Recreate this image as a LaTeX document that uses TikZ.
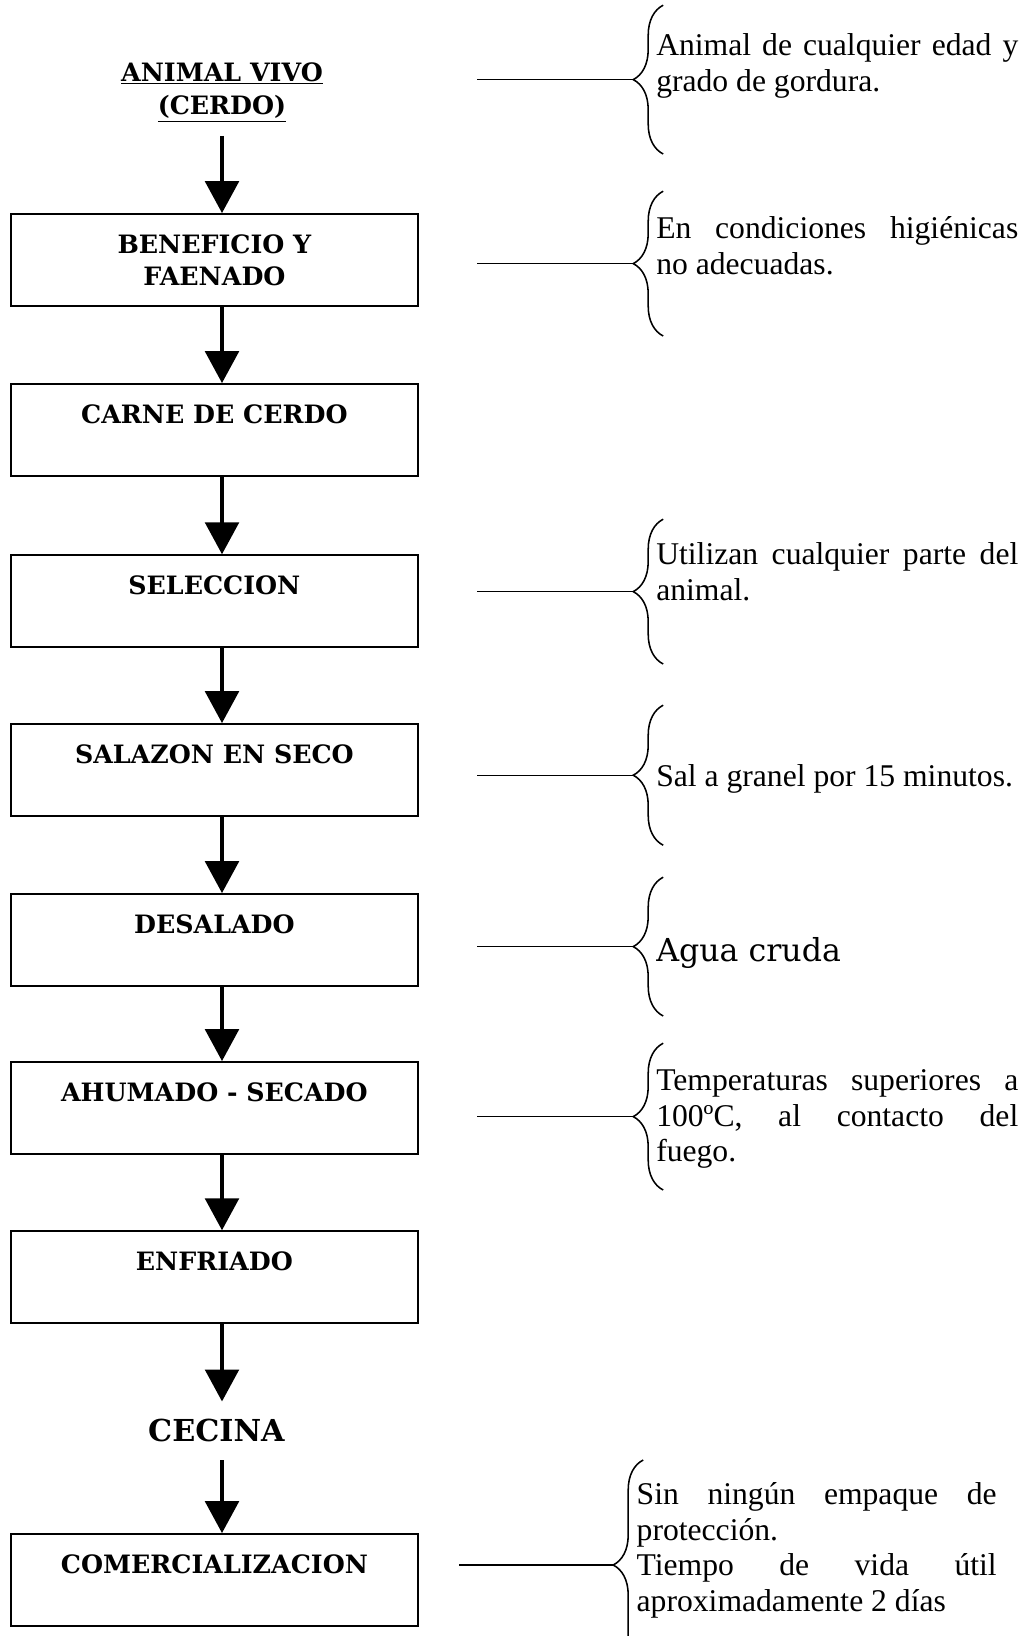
\documentclass[tikz,border=0pt]{standalone}
\usepackage{fontspec}
\setmainfont{Liberation Serif}
\newfontfamily\cajafont{DejaVu Serif}
\usepackage{tikz}
\usetikzlibrary{positioning, arrows.meta, decorations.pathreplacing}
\hyphenpenalty=10000
\exhyphenpenalty=10000

\begin{document}
\begin{tikzpicture}[
    caja/.style={draw, line width=1.2pt, minimum width=10.18cm, minimum height=2.3cm, inner sep=0pt, align=center, font=\cajafont\bfseries\fontsize{18}{22.5}\selectfont},
    titulo/.style={inner xsep=0pt, inner ysep=0.35cm, align=center, font=\cajafont\bfseries\fontsize{18}{24}\selectfont},
    flecha/.style={line width=3.5pt, -{Triangle[width=0.83cm, length=0.8cm]}},
    linea/.style={line width=1pt},
    llave/.style={line width=1.1pt, decorate, decoration={brace, amplitude=0.75cm}},
    nota/.style={anchor=base west, inner sep=0pt, text width=9.05cm, align=justify, font=\fontsize{22.5}{25.6}\selectfont}
  ]
  \useasboundingbox (0,0) rectangle (25.8,-40.9);
  \coordinate (eje) at (5.55,0);

  % Nodes
  \node[titulo] (animal) at (5.55,-2.30) {\underline{ANIMAL VIVO}\\\underline{(CERDO)}};
  \foreach \n/\y/\t in {benef/6.50/{BENEFICIO Y\\FAENADO}, carne/10.75/{CARNE DE CERDO\\\mbox{}},
      selec/15.03/{SELECCION\\\mbox{}}, salaz/19.25/{SALAZON EN SECO\\\mbox{}},
      desal/23.50/{DESALADO\\\mbox{}}, ahum/27.70/{AHUMADO - SECADO\\\mbox{}},
      enfr/31.93/{ENFRIADO\\\mbox{}}, comer/39.50/{COMERCIALIZACION\\\mbox{}}}
    \node[caja] (\n) at (5.36,-\y) {\t};
  \node[font=\cajafont\bfseries\fontsize{21.5}{26}\selectfont, minimum height=1.45cm, inner sep=0pt] (cecina) at (5.41,-35.77) {CECINA};

  % Arrows
  \foreach \a/\b in {animal/benef, benef/carne, carne/selec, selec/salaz, salaz/desal, desal/ahum, ahum/enfr, enfr/cecina, cecina/comer}
    \draw[flecha] (\a.south -| eje) -- (\b.north -| eje);

  % Braces
  \foreach \i/\x/\s/\ya/\yb in {1/16.58/11.93/0.13/3.85, 2/16.58/11.93/4.78/8.40, 3/16.58/11.93/12.98/16.60,
      4/16.58/11.93/17.63/21.13, 5/16.58/11.93/21.93/25.40, 6/16.58/11.93/26.08/29.75, 7/16.08/11.48/36.50/41.75}{
    \draw[llave] (\x,-\yb) -- (\x,-\ya);
    \coordinate (punta\i) at ({\x-0.75},{-(\ya+\yb)/2});
    \coordinate (inicio\i) at (\s,{-(\ya+\yb)/2});
    \draw[linea] (inicio\i) -- (punta\i);
  }

  % Notes
  \node[nota] (nota1) at (16.40,-1.39) {Animal de cualquier edad y\linebreak grado de gordura.};
  \node[nota] (nota2) at (16.40,-5.97) {En condiciones higiénicas\linebreak no adecuadas.};
  \node[nota] (nota3) at (16.40,-14.12) {Utilizan cualquier parte del\linebreak animal.};
  \node[nota] (nota4) at (16.40,-19.66) {Sal a granel por 15 minutos.};
  \node[nota, font=\cajafont\fontsize{22.5}{27}\selectfont] (nota5) at (16.40,-24.03) {Agua cruda};
  \node[nota] (nota6) at (16.40,-27.25) {Temperaturas superiores a\linebreak 100ºC, al contacto del\linebreak fuego.};
  \node[nota, text width=9.0cm] (nota7) at (15.91,-37.60) {Sin ningún empaque de\linebreak protección.\\Tiempo de vida útil\linebreak aproximadamente 2 días};
\end{tikzpicture}
\end{document}
